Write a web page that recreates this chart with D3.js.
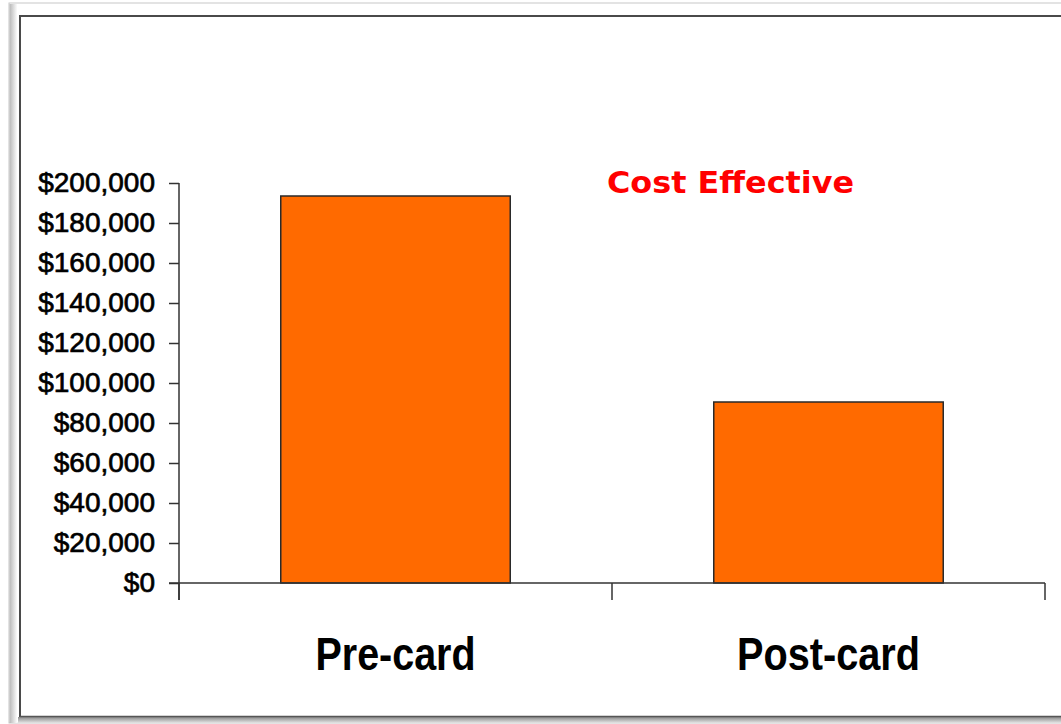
<!DOCTYPE html>
<html>
  <head>
    <meta charset="utf-8" />
    <script src="https://d3js.org/d3.v7.min.js"></script>
    <title>Cost Effective</title>
    <style>
        body { margin: 0; background: #fff; }
        svg { display: block; }
    </style>
  </head>
  <body>
    <svg id="chart" width="1061" height="724"></svg>

    <script>
    // chart data
        var categories = ["Pre-card", "Post-card"];
        var costs = [193500, 90500];
        var tickValues = [0, 20000, 40000, 60000, 80000, 100000, 120000, 140000, 160000, 180000, 200000];
        var titleText = "Cost Effective";

        var svg = d3.select("#chart");

        // frame round the picture
        var defs = svg.append("defs");
        var lg = defs.append("linearGradient").attr("id", "bevelLeft")
            .attr("x1", "0").attr("x2", "1").attr("y1", "0").attr("y2", "0");
        lg.append("stop").attr("offset", "0").attr("stop-color", "#b8b8b8");
        lg.append("stop").attr("offset", "1").attr("stop-color", "#ffffff");

        var bg = defs.append("linearGradient").attr("id", "bevelBottom")
            .attr("x1", "0").attr("x2", "0").attr("y1", "0").attr("y2", "1");
        bg.append("stop").attr("offset", "0").attr("stop-color", "#8a8a8a");
        bg.append("stop").attr("offset", "1").attr("stop-color", "#e4e4e4");

        svg.append("rect").attr("x", 9).attr("y", 3).attr("width", 1070).attr("height", 720)
            .attr("fill", "#fff").attr("stroke", "#c8c8c8").attr("stroke-width", 1);
        svg.append("rect").attr("x", 9.5).attr("y", 4).attr("width", 8).attr("height", 719)
            .attr("fill", "url(#bevelLeft)");
        svg.append("rect").attr("x", 18).attr("y", 717).attr("width", 1050).attr("height", 6)
            .attr("fill", "url(#bevelBottom)");
        svg.append("path")
            .attr("d", "M20,717 V16 H1070")
            .attr("fill", "none").attr("stroke", "#4a4a4a").attr("stroke-width", 2);
        svg.append("line").attr("x1", 20).attr("x2", 1070).attr("y1", 716.5).attr("y2", 716.5)
            .attr("stroke", "#555").attr("stroke-width", 1.5);

        // scales
        var y = d3.scaleLinear().domain([0, 200000]).range([583, 183]);
        var x = d3.scaleBand().domain(categories).range([179, 1045])
            .paddingInner(0.47).paddingOuter(0.235);

        // y axis
        var yAxis = d3.axisLeft(y)
            .tickValues(tickValues)
            .tickSize(10)
            .tickPadding(14)
            .tickFormat(function(d){ return "$" + d3.format(",")(d); });

        var gy = svg.append("g").attr("transform", "translate(179,0)").call(yAxis);
        gy.select(".domain").remove();
        gy.selectAll(".tick line").attr("stroke", "#333").attr("stroke-width", 1.5);
        gy.selectAll(".tick text")
            .attr("font-family", "Liberation Sans, Arial, sans-serif")
            .attr("font-size", 28)
            .attr("fill", "#000")
            .attr("stroke", "#000")
            .attr("stroke-width", 0.7);

        // bars
        svg.selectAll("rect.bar")
            .data(categories)
            .enter().append("rect")
            .attr("class", "bar")
            .attr("x", function(d){ return x(d); })
            .attr("y", function(d, i){ return y(costs[i]); })
            .attr("width", x.bandwidth())
            .attr("height", function(d, i){ return y(0) - y(costs[i]); })
            .attr("fill", "#ff6a00")
            .attr("stroke", "#2a2a2a")
            .attr("stroke-width", 1.5);

        // axis lines
        svg.append("line").attr("x1", 179).attr("x2", 179).attr("y1", 183).attr("y2", 600)
            .attr("stroke", "#333").attr("stroke-width", 1.5);
        svg.append("line").attr("x1", 169).attr("x2", 1045).attr("y1", y(0)).attr("y2", y(0))
            .attr("stroke", "#333").attr("stroke-width", 1.5);

        // category boundary ticks
        var gap = (x.step() - x.bandwidth()) / 2;
        var bounds = categories.map(function(d){ return x(d) - gap; });
        bounds.push(x(categories[categories.length - 1]) + x.bandwidth() + gap);
        svg.selectAll("line.xtick")
            .data(bounds)
            .enter().append("line")
            .attr("class", "xtick")
            .attr("x1", function(d){ return d; })
            .attr("x2", function(d){ return d; })
            .attr("y1", y(0))
            .attr("y2", 600)
            .attr("stroke", "#333").attr("stroke-width", 1.5);

        // category labels
        var labelWidths = [160, 183];
        svg.selectAll("text.cat")
            .data(categories)
            .enter().append("text")
            .attr("class", "cat")
            .attr("x", function(d){ return x(d) + x.bandwidth() / 2; })
            .attr("y", 670)
            .attr("text-anchor", "middle")
            .attr("font-family", "Liberation Sans, Arial, sans-serif")
            .attr("font-weight", "bold")
            .attr("font-size", 46)
            .attr("textLength", function(d, i){ return labelWidths[i]; })
            .attr("lengthAdjust", "spacingAndGlyphs")
            .text(function(d){ return d; });

        // title
        svg.append("text")
            .attr("x", 607)
            .attr("y", 193)
            .attr("font-family", "DejaVu Sans, Verdana, sans-serif")
            .attr("font-weight", "bold")
            .attr("font-size", 30)
            .attr("fill", "#ff0000")
            .attr("textLength", 247)
            .attr("lengthAdjust", "spacingAndGlyphs")
            .text(titleText);
    </script>
  </body>
</html>
